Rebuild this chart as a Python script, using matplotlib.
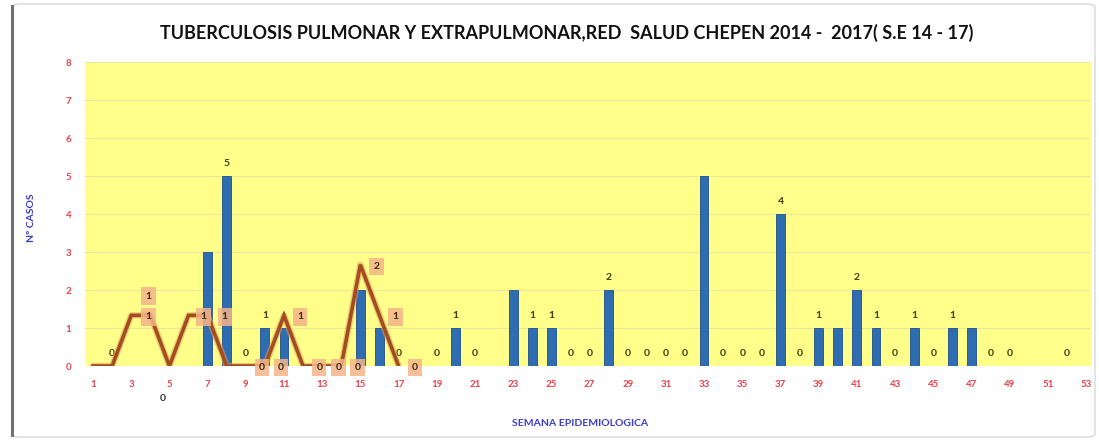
import numpy as np
import matplotlib
matplotlib.use("Agg")
import matplotlib.pyplot as plt
from matplotlib.patches import FancyBboxPatch

plt.rcParams["font.family"] = ["Lato", "DejaVu Sans"]

# ---------------- data ----------------
weeks = list(range(1, 54))
nan = np.nan
bar_values = [nan, 0, nan, nan, nan, nan, 3, 5, 0, 1,
              1, nan, nan, nan, 2, 1, 0, nan, 0, 1,
              0, nan, 2, 1, 1, 0, 0, 2, 0, 0,
              0, 0, 5, 0, 0, 0, 4, 0, 1, 1,
              2, 1, 0, 1, 0, 1, 1, 0, 0, nan,
              nan, 0, nan]
# which bar labels are shown in the reference
bar_label_weeks = [2, 8, 9, 10, 17, 19, 20, 21, 24, 25, 26, 27, 28, 29, 30, 31, 32,
                   34, 35, 36, 37, 38, 39, 41, 42, 43, 44, 45, 46, 48, 49, 52]

line_weeks = list(range(1, 18))
line_values = [0, 0, 1, 1, 0, 1, 1, 0, 0, 0, 1, 0, 0, 0, 2, 1, 0]
line_label_weeks = [3, 4, 5, 6, 7, 9, 10, 11, 12, 13, 14, 15, 16, 17]

x_tick_labels = [str(w) for w in range(1, 54, 2)]

title = "TUBERCULOSIS PULMONAR Y EXTRAPULMONAR,RED  SALUD CHEPEN 2014 -  2017( S.E 14 - 17)"
xlabel = "SEMANA EPIDEMIOLOGICA"
ylabel = "Nº CASOS"

# ---------------- style ----------------
BG = "#ffff8a"
BAR = "#2f6db3"
LINE = "#a24c22"
TICK = "#e8404a"
BLUE_TXT = "#3a3ad0"

fig = plt.figure(figsize=(10.99, 4.41), dpi=100)
fig.patch.set_facecolor("white")

# outer border
border = FancyBboxPatch((12 / 1099, 4 / 441), 1083 / 1099, 433 / 441,
                        boxstyle="round,pad=0,rounding_size=0.008",
                        transform=fig.transFigure, facecolor="none",
                        edgecolor="#d8d8d8", linewidth=1.0, zorder=0)
fig.patches.append(border)
fig.add_artist(plt.Line2D([12 / 1099, 12 / 1099], [6 / 441, 435 / 441],
                          transform=fig.transFigure, color="#707070", lw=2.2))

ax = fig.add_axes([85 / 1099, 1 - 366 / 441, 1006 / 1099, 304 / 441])
ax.set_facecolor(BG)
for s in ax.spines.values():
    s.set_visible(False)

x = np.array(weeks, dtype=float)
bv = np.array(bar_values, dtype=float)
ax.bar(x, bv, width=0.46, color=BAR, edgecolor="#1f4f86", linewidth=0.6, zorder=3)

ax.set_xlim(0.58, 53.26)
ax.set_ylim(0, 8)
ax.set_yticks(range(0, 9))
ax.set_xticks(range(1, 54, 2))
ax.set_xticklabels(x_tick_labels)
ax.tick_params(axis="both", length=0, labelsize=7, labelcolor=TICK)
ax.tick_params(axis="x", pad=10)
ax.tick_params(axis="y", pad=10)
for lab in ax.get_xticklabels() + ax.get_yticklabels():
    lab.set_fontweight("bold")
ax.yaxis.grid(True, color="#e6e6a0", linewidth=0.7, zorder=0)
ax.set_axisbelow(True)

for w in bar_label_weeks:
    v = bar_values[w - 1]
    ax.text(w, v + 0.33, f"{int(v)}", ha="center", va="center", fontsize=7.5,
            fontweight="bold", color="#3b3b10", zorder=6)

# secondary axis for the line
ax2 = ax.twinx()
ax2.set_ylim(0, 6)
ax2.axis("off")
lw = np.array(line_weeks, dtype=float)
lv = np.array(line_values, dtype=float)
ax2.plot(lw, lv, color="#e3a25e", lw=4.5, alpha=0.6, zorder=4, solid_capstyle="round")
ax2.plot(lw, lv, color=LINE, lw=2.6, zorder=5, solid_joinstyle="miter")

# label placement offsets (x in weeks, y in secondary units)
offsets = {3: (0.9, 0.38), 4: (-0.1, -0.03), 5: (-0.33, -0.64), 6: (0.78, -0.03),
           7: (0.9, -0.03)}
nobox = {5}
for w in line_label_weeks:
    v = line_values[w - 1]
    dx, dy = offsets.get(w, (0.85, -0.03))
    box = None if w in nobox else dict(boxstyle="square,pad=0.4", facecolor="#f5b48a",
                                       edgecolor="none", alpha=0.85)
    ax2.text(w + dx, v + dy, f"{v}", ha="center", va="center", fontsize=7.5,
             fontweight="bold", color="#3a2a10" if w not in nobox else "#333333",
             bbox=box, zorder=7, clip_on=False)

fig.text(567 / 1099, 1 - 33 / 441, title, ha="center", va="center",
         fontsize=13, fontweight="bold", color="#111111")
fig.text(580 / 1099, 1 - 423 / 441, xlabel, ha="center", va="center",
         fontsize=7.5, fontweight="bold", color=BLUE_TXT)
fig.text(31 / 1099, 1 - 218 / 441, ylabel, ha="center", va="center", rotation=90,
         fontsize=7.5, fontweight="bold", color=BLUE_TXT)

fig.savefig("out.png", dpi=100, facecolor="white")
